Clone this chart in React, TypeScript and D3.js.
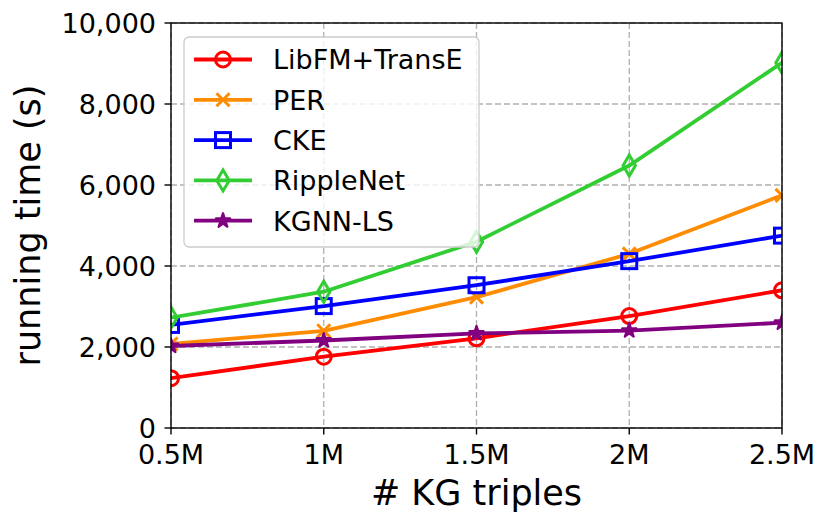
import React from "react";
import * as d3 from "d3";

const xValues = [0.5, 1, 1.5, 2, 2.5];
const xTickLabels = ["0.5M", "1M", "1.5M", "2M", "2.5M"];
const yTicks = [0, 2000, 4000, 6000, 8000, 10000];

const seriesNames = ["LibFM+TransE", "PER", "CKE", "RippleNet", "KGNN-LS"];
const libfmValues = [1230, 1760, 2215, 2765, 3400];
const perValues = [2075, 2400, 3230, 4300, 5745];
const ckeValues = [2545, 3010, 3525, 4120, 4750];
const rippleValues = [2725, 3365, 4600, 6480, 9020];
const kgnnValues = [2025, 2160, 2335, 2405, 2600];

const seriesColors = ["#ff0000", "#ff8c00", "#0000ff", "#32cd32", "#800080"];
const seriesMarkers = ["circle", "x", "square", "diamond", "star"];
const seriesValues = [libfmValues, perValues, ckeValues, rippleValues, kgnnValues];

const W = 831;
const H = 526;
const M = { left: 171, right: 782, top: 23, bottom: 428 };
const FONT = "'DejaVu Sans', sans-serif";

function Marker({ type, x, y, color }: { type: string; x: number; y: number; color: string }) {
  const sw = 3;
  if (type === "circle") {
    return <circle cx={x} cy={y} r={7.5} fill="none" stroke={color} strokeWidth={sw} />;
  }
  if (type === "square") {
    return <rect x={x - 7.5} y={y - 7.5} width={15} height={15} fill="none" stroke={color} strokeWidth={sw} />;
  }
  if (type === "x") {
    const a = 6.5;
    return (
      <path
        d={`M${x - a},${y - a}L${x + a},${y + a}M${x - a},${y + a}L${x + a},${y - a}`}
        stroke={color}
        strokeWidth={sw}
        fill="none"
      />
    );
  }
  if (type === "diamond") {
    const hw = 6.2;
    const hh = 10.5;
    return (
      <path
        d={`M${x},${y - hh}L${x + hw},${y}L${x},${y + hh}L${x - hw},${y}Z`}
        stroke={color}
        strokeWidth={sw}
        fill="none"
      />
    );
  }
  // star
  const R = 7.5;
  const r = R * 0.382;
  const pts: string[] = [];
  for (let i = 0; i < 10; i++) {
    const rad = i % 2 === 0 ? R : r;
    const ang = -Math.PI / 2 + (i * Math.PI) / 5;
    pts.push(`${x + rad * Math.cos(ang)},${y + rad * Math.sin(ang)}`);
  }
  return <path d={`M${pts.join("L")}Z`} fill={color} stroke={color} strokeWidth={2.2} strokeLinejoin="round" />;
}

export default function App() {
  const x = d3.scaleLinear().domain([0.5, 2.5]).range([M.left, M.right]);
  const y = d3.scaleLinear().domain([0, 10000]).range([M.bottom, M.top]);
  const line = d3
    .line<number>()
    .x((_, i) => x(xValues[i]))
    .y((d) => y(d));
  const fmt = d3.format(",");

  const legendX = 184;
  const legendY = 37;
  const legendW = 295;
  const legendH = 210;
  const rowY0 = 59.5;
  const rowGap = 40.3;

  return (
    <svg
      width={W}
      height={H}
      style={{ position: "absolute", left: 0, top: 0, background: "#fff" }}
      fontFamily={FONT}
    >
      <defs>
        <clipPath id="plotClip">
          <rect x={M.left} y={M.top} width={M.right - M.left} height={M.bottom - M.top} />
        </clipPath>
      </defs>
      <rect x={0} y={0} width={W} height={H} fill="#fff" />

      {/* grid */}
      <g stroke="#b0b0b0" strokeWidth={1.3} strokeDasharray="6,3">
        {xValues.map((v, i) => (
          <line key={"gx" + i} x1={x(v)} x2={x(v)} y1={M.top} y2={M.bottom} />
        ))}
        {yTicks.map((v, i) => (
          <line key={"gy" + i} x1={M.left} x2={M.right} y1={y(v)} y2={y(v)} />
        ))}
      </g>

      {/* series */}
      <g clipPath="url(#plotClip)">
        {seriesValues.map((vals, si) => (
          <g key={"s" + si}>
            <path
              d={line(vals) || ""}
              fill="none"
              stroke={seriesColors[si]}
              strokeWidth={3.8}
              strokeLinejoin="round"
              strokeLinecap="square"
            />
            {vals.map((v, i) => (
              <Marker key={i} type={seriesMarkers[si]} x={x(xValues[i])} y={y(v)} color={seriesColors[si]} />
            ))}
          </g>
        ))}
      </g>

      {/* spines */}
      <rect
        x={M.left}
        y={M.top}
        width={M.right - M.left}
        height={M.bottom - M.top}
        fill="none"
        stroke="#000"
        strokeWidth={1.4}
      />

      {/* x ticks */}
      <g>
        {xValues.map((v, i) => (
          <g key={"xt" + i}>
            <line x1={x(v)} x2={x(v)} y1={M.bottom} y2={M.bottom + 6.5} stroke="#000" strokeWidth={1.4} />
            <text x={x(v)} y={464} textAnchor="middle" fontSize={27} fill="#000">
              {xTickLabels[i]}
            </text>
          </g>
        ))}
      </g>

      {/* y ticks */}
      <g>
        {yTicks.map((v, i) => (
          <g key={"yt" + i}>
            <line x1={M.left - 6.5} x2={M.left} y1={y(v)} y2={y(v)} stroke="#000" strokeWidth={1.4} />
            <text x={156} y={y(v) + 9.8} textAnchor="end" fontSize={27} fill="#000">
              {fmt(v)}
            </text>
          </g>
        ))}
      </g>

      {/* axis labels */}
      <text x={(M.left + M.right) / 2} y={505} textAnchor="middle" fontSize={35} fill="#000">
        # KG triples
      </text>
      <text
        transform={`translate(40,${(M.top + M.bottom) / 2}) rotate(-90)`}
        textAnchor="middle"
        fontSize={35}
        fill="#000"
      >
        running time (s)
      </text>

      {/* legend */}
      <g>
        <rect
          x={legendX}
          y={legendY}
          width={legendW}
          height={legendH}
          rx={5}
          ry={5}
          fill="#fff"
          fillOpacity={0.8}
          stroke="#cccccc"
          strokeWidth={1.3}
        />
        {seriesNames.map((name, si) => {
          const cy = rowY0 + si * rowGap;
          return (
            <g key={"lg" + si}>
              <line x1={194} x2={252} y1={cy} y2={cy} stroke={seriesColors[si]} strokeWidth={3.8} />
              <Marker type={seriesMarkers[si]} x={223} y={cy} color={seriesColors[si]} />
              <text x={273} y={cy + 9.8} fontSize={27} fill="#000">
                {name}
              </text>
            </g>
          );
        })}
      </g>
    </svg>
  );
}
